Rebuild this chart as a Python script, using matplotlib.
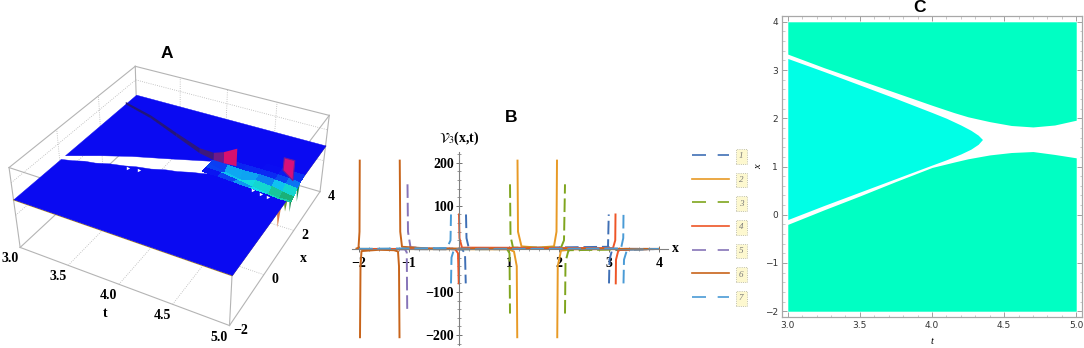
import numpy as np
import matplotlib
matplotlib.use('Agg')
import matplotlib.pyplot as plt
from matplotlib.colors import LinearSegmentedColormap
from matplotlib.lines import Line2D
from mpl_toolkits.mplot3d import proj3d
from mpl_toolkits.mplot3d.art3d import Poly3DCollection

W, H = 1084, 348
nan = np.nan

# boundaries
band_t = [3.0, 3.25, 3.5, 3.75, 4.0, 4.15, 4.25, 4.4, 4.55, 4.7, 4.85, 5.0]
top_edge = [3.33, 3.05, 2.79, 2.53, 2.27, 2.12, 2.03, 1.93, 1.85, 1.82, 1.86, 1.96]
bottom_edge = [-0.2, 0.1, 0.39, 0.69, 0.98, 1.09, 1.16, 1.24, 1.29, 1.31, 1.25, 1.18]

wedge_t = [3.0, 3.25, 3.5, 3.75, 4.0, 4.1, 4.2, 4.27, 4.32, 4.35]
wedge_up = [3.24, 2.97, 2.69, 2.41, 2.12, 2.0, 1.86, 1.75, 1.65, 1.56]
wedge_lo = [-0.1, 0.19, 0.47, 0.75, 1.03, 1.14, 1.26, 1.36, 1.46, 1.56]

# panel A
sheet_t = [3.0, 3.1, 3.2, 3.3, 3.42, 3.55, 3.65, 3.78, 3.9, 4.0, 4.12, 4.2, 4.33, 4.47, 4.7, 5.0]
sheet_x = [0.05, 0.14, 0.27, 0.33, 0.48, 0.58, 0.69, 0.78, 0.93, 1.0, 1.15, 1.22, 1.38, 1.5, 1.5, 1.5]
mid_t = [3.0, 3.28, 3.53, 3.82, 4.18]
mid_x = [0.25, 0.7, 1.06, 1.4, 1.84]
ridge_t = [3.0, 3.35, 3.72, 4.04, 4.2, 4.3, 4.42]
ridge_x = [3.4, 3.05, 2.53, 2.08, 1.96, 1.95, 1.98]
ridge_z = [5, 7, 9, 13, 20, 32, 52]
tail_t = [4.6, 5.0]
tail_x = [1.9, 1.96]
dip_t = [4.2, 4.35, 4.5, 4.65, 4.8, 4.9, 5.0]
dip_x = [1.3, 1.5, 1.7, 1.9, 2.1, 2.4]
dip_z = [[0, 0, -1, 0, 0, 0],
         [0, -3, -12, -2, 0, 0],
         [-3, -10, -22, -5, 0, 0],
         [-6, -18, -10, -3, 0, 0],
         [-8, -24, -14, -5, -1, 0],
         [-12, -28, -20, -8, -3, -1],
         [-10, -28, -26, -12, -6, -1]]
drip_x = [0.7, 1.15, 1.5, 2.0]
drip_z = [-55, -35, -60, -60]
drip_col = ['#d87a4a', '#6a9a30', '#1e8a50', '#1e8a50']
spike_t = [4.8, 4.88, 4.92, 4.84]
spike_x = [2.4, 2.55, 2.2, 2.05]
spike_z = [36, 26, -12, 22]
nick_t = [4.7, 4.78, 4.85, 3.6, 3.7]
nick_x = [1.18, 1.12, 1.07, 0.52, 0.6]

# panel B
s1_x = [-2, 0.06, 0.12, 0.135, nan, 0.14, 0.15, 0.19, 0.3, 2.98, 2.995, nan, 3.0, 3.01, 3.06, 4]
s1_y = [0, -1, -10, -80, nan, 80, 25, 5, 1, 5, 80, nan, -80, -25, -3, 0]
s2_x = [-2, 1.0, 1.1, 1.155, 1.165, nan, 1.17, 1.18, 1.25, 1.57, 1.9, 1.95, 1.96, nan, 1.965, 1.975, 2.04, 2.3, 4]
s2_y = [0, -1, -6, -40, -205, nan, 205, 40, 6, 3, 6, 40, 205, nan, -205, -40, -4, -1, 0]
s3_x = [-2, 0.96, 1.01, 1.02, nan, 1.02, 1.03, 1.08, 2.04, 2.1, 2.12, nan, 2.12, 2.13, 2.19, 4]
s3_y = [0, 0, -10, -150, nan, 150, 30, 3, 3, 20, 150, nan, -150, -30, -3, 0]
s4_x = [-2, -0.08, -0.02, -0.005, nan, 0.0, 0.01, 0.06, 3.08, 3.125, 3.13, nan, 3.135, 3.14, 3.19, 4]
s4_y = [0, 0, -10, -80, nan, 80, 25, 3, 2, 20, 80, nan, -80, -25, -2, 0]
s5_x = [-2, -1.08, -1.045, -1.035, nan, -1.03, -1.02, -0.97, -0.6, 4]
s5_y = [0, -1, -8, -150, nan, 150, 40, 4, 1, 0]
s6_x = [-2.05, -2.01, -1.99, -1.985, nan, -1.98, -1.97, -1.95, -1.6, -1.3, -1.22, -1.2, -1.19, nan, -1.185, -1.175, -1.14, -0.6, 4]
s6_y = [1, 3, 40, 205, nan, -205, -40, -5, -2, -3, -6, -40, -205, nan, 205, 40, 5, 1, 0]
s7_x = [-2, -0.24, -0.17, -0.16, nan, -0.16, -0.15, -0.1, 3.24, 3.285, 3.29, nan, 3.29, 3.3, 3.36, 4]
s7_y = [0, 2, 20, 80, nan, -80, -20, -1, 1, 25, 80, nan, -80, -25, -2, 0]

series = [(s1_x, s1_y, '#3f6fb5', True, '1'),
          (s2_x, s2_y, '#e89a25', False, '2'),
          (s3_x, s3_y, '#7fa51e', True, '3'),
          (s4_x, s4_y, '#ee5526', False, '4'),
          (s5_x, s5_y, '#8674b8', True, '5'),
          (s6_x, s6_y, '#c8641a', False, '6'),
          (s7_x, s7_y, '#4a9bd6', True, '7')]

b_xticks = [-2, -1, 1, 2, 3, 4]
b_yticks = [-200, -100, 100, 200]
c_xticks = [3.0, 3.5, 4.0, 4.5, 5.0]
c_yticks = [-2, -1, 0, 1, 2, 3, 4]

serif = 'Liberation Serif'
sans = 'Liberation Sans'
fig = plt.figure(figsize=(W/100, H/100), dpi=100)


def axes_px(x0, y0, x1, y1, **kw):
    return fig.add_axes([x0/W, 1-y1/H, (x1-x0)/W, (y1-y0)/H], **kw)


# ---- A
ax = axes_px(-38.9, -23.8, 381.1, 396.2, projection='3d')
ax.set_axis_off()
ax.computed_zorder = False
ax.patch.set_alpha(0)
ax.set_proj_type('persp', focal_length=0.3685)
ax.view_init(elev=35.03, azim=-61.83)
ax.set_box_aspect((0.996, 1, 0.4159), zoom=0.7785)
ax.set_xlim(3, 5)
ax.set_ylim(-2, 4)
zlo, zhi = -155, 95
ax.set_zlim(zlo, zhi)

box = '#b4b4b4'
for a in [3, 5]:
    for b in [-2, 4]:
        ax.plot([a, a], [b, b], [zlo, zhi], color=box, lw=0.8, zorder=1)
    for c in [zlo, zhi]:
        ax.plot([a, a], [-2, 4], [c, c], color=box, lw=0.8, zorder=1)
for b in [-2, 4]:
    for c in [zlo, zhi]:
        ax.plot([3, 5], [b, b], [c, c], color=box, lw=0.8, zorder=1)
for a in [3.5, 4.0, 4.5]:
    ax.plot([a, a], [-2, 4], [zlo, zlo], color=box, lw=0.6, ls=':', zorder=1)
    ax.plot([a, a], [4, 4], [zlo, zhi], color=box, lw=0.6, ls=':', zorder=1)
for b in [0, 2]:
    ax.plot([3, 5], [b, b], [zlo, zlo], color=box, lw=0.6, ls=':', zorder=1)
    ax.plot([3, 3], [b, b], [zlo, zhi], color=box, lw=0.6, ls=':', zorder=1)
for c in [-50, 50]:
    ax.plot([3, 5], [4, 4], [c, c], color=box, lw=0.6, ls=':', zorder=1)
    ax.plot([3, 3], [-2, 4], [c, c], color=box, lw=0.6, ls=':', zorder=1)

blue = '#0a0af2'
up_poly = [(t, x, 0) for t, x in zip(ridge_t + tail_t, ridge_x + tail_x)] + [(5, 4, 0), (3, 4, 0)]
lo_poly = [(3, -2, 0), (5, -2, 0)] + [(t, x, 0) for t, x in zip(sheet_t[::-1], sheet_x[::-1])]
mid_poly = [(t, x, 0) for t, x in zip(mid_t, mid_x)] + \
           [(t, x, 0) for t, x in zip(ridge_t[:5][::-1], ridge_x[:5][::-1])]
ax.plot([3, 5, 5], [-2, -2, 4], [-2, -2, -2], color='#b08a20', lw=0.8, zorder=2)
for poly in [up_poly, mid_poly, lo_poly]:
    ax.add_collection3d(Poly3DCollection([poly], facecolor=blue, edgecolor=blue, lw=0.3, zorder=3))

dip_map = LinearSegmentedColormap.from_list('d', [(0, '#1c9a50'), (0.3, '#18c8a0'), (0.55, '#10e0f0'), (0.8, '#0a60f4'), (1, blue)])
T, X = np.meshgrid(dip_t, dip_x, indexing='ij')
ax.plot_surface(T, X, np.array(dip_z, dtype=float), cmap=dip_map, vmin=-30, vmax=0,
                rstride=1, cstride=1, linewidth=0, antialiased=False, zorder=4)

drips = []
for x, z in zip(drip_x, drip_z):
    drips.append([(5, x-0.12, -4), (5, x+0.12, -4), (5, x, z)])
ax.add_collection3d(Poly3DCollection(drips, facecolors=drip_col, zorder=2))

ridge_polys = []
ridge_cols = []
mix = LinearSegmentedColormap.from_list('r', ['#14147a', '#32187c', '#7a1a8a', '#d8106e'])
for i in range(len(ridge_t)-1):
    ridge_polys.append([(ridge_t[i], ridge_x[i], -3), (ridge_t[i+1], ridge_x[i+1], -3),
                        (ridge_t[i+1], ridge_x[i+1], ridge_z[i+1]), (ridge_t[i], ridge_x[i], ridge_z[i])])
    ridge_cols.append(mix(ridge_z[i+1]/max(ridge_z)))
ax.add_collection3d(Poly3DCollection(ridge_polys, facecolors=ridge_cols, zorder=5))

ax.add_collection3d(Poly3DCollection([list(zip(spike_t, spike_x, spike_z))], facecolor='#d8107a',
                                     edgecolor='#6a1a9a', lw=0.8, zorder=6))
ax.scatter(nick_t, nick_x, [0]*5, marker='>', s=6, c='white', linewidths=0, depthshade=False, zorder=7)


def label3d(t, x, text, dx, dy):
    # text offset in pixels from a point of the box floor
    px, py, _ = proj3d.proj_transform(t, x, zlo, ax.get_proj())
    ax.annotate(text, (px, py), xytext=(dx*0.72, -dy*0.72), textcoords='offset points', fontsize=10,
                fontweight='bold', family=serif, ha='center', va='center', annotation_clip=False)


for t in [3.0, 3.5, 4.0, 4.5, 5.0]:
    label3d(t, -2, f'{t:.1f}', -10, 11.5)
label3d(4.0, -2, 't', -14, 29)
for x, s in zip([-2, 0, 2, 4], ['\u22122', '0', '2', '4']):
    label3d(5, x, s, 11, 5)
label3d(5, 1, 'x', 24, 7)
fig.text(167/W, 1-53/H, 'A', fontsize=12.5, fontweight='bold', family=sans, ha='center', va='center')

# ---- B
ax = axes_px(352, 152, 668, 345)
ax.set_xlim(-2.14, 4.18)
ax.set_ylim(-223, 225)
ax.patch.set_alpha(0)
for s in ['top', 'right']:
    ax.spines[s].set_visible(False)
ax.spines['left'].set_position(('data', 0))
ax.spines['bottom'].set_position(('data', 0))
ax.spines['left'].set_color('#808080')
ax.spines['bottom'].set_color('#808080')
ax.spines['left'].set_linewidth(0.8)
ax.spines['bottom'].set_linewidth(0.8)
handles = []
for xs, ys, col, dashed, name in series:
    ls = (0, (7, 2.5)) if dashed else '-'
    ax.plot(xs, ys, color=col, lw=1.4, ls=ls, clip_on=False)
    handles.append(Line2D([], [], color=col, lw=1.2, ls=(0, (8.4, 7.0)) if dashed else '-', label=name))
ax.set_xticks(b_xticks)
ax.set_xticklabels([str(v).replace('-', '\u2212') for v in b_xticks], fontsize=10, fontweight='bold', family=serif)
ax.set_yticks(b_yticks)
ax.set_yticklabels([str(v).replace('-', '\u2212') for v in b_yticks], fontsize=10, fontweight='bold', family=serif)
ax.set_xticks(np.arange(-2, 4.01, 0.2), minor=True)
ax.set_yticks(np.arange(-220, 221, 20), minor=True)
ax.tick_params(which='major', direction='inout', length=5, width=0.7, color='#707070')
ax.tick_params(axis='x', which='major', pad=3)
ax.tick_params(axis='y', which='major', pad=1)
ax.tick_params(which='minor', direction='inout', length=2.5, width=0.5, color='#707070')
ax.text(4.32, 0, 'x', fontsize=10, fontweight='bold', family=serif, ha='center', va='center', clip_on=False)
ax.text(0, 256, r'$\mathcal{V}_3$(x,t)', fontsize=10, fontweight='bold', family=serif, ha='center', va='center',
        math_fontfamily='stix')
fig.text(511/W, 1-117/H, 'B', fontsize=12.5, fontweight='bold', family=sans, ha='center', va='center')

leg = fig.legend(handles=handles, loc='upper left', bbox_to_anchor=(692/W, 1-152/H), frameon=False, fontsize=6.5,
                 handlelength=4.1, handletextpad=1.1, labelspacing=1.7, borderpad=0, borderaxespad=0)
for txt in leg.get_texts():
    txt.set_fontstyle('italic')
    txt.set_family(serif)
    txt.set_color('#777777')
    txt.set_bbox(dict(facecolor='#fdf8cf', edgecolor='#b0b0a0', ls=':', lw=0.6, pad=2.4))

# ---- C
ax = axes_px(782, 16, 1082, 317)
ax.set_xlim(2.96, 5.04)
ax.set_ylim(-2.12, 4.12)
green = '#00ffc3'
ax.fill_between(band_t, -2, bottom_edge, color=green, lw=0)
ax.fill_between(band_t, top_edge, 4, color=green, lw=0)
ax.fill_between(wedge_t, wedge_lo, wedge_up, color='#00ffe6', lw=0)
ax.set_xticks(c_xticks)
ax.set_yticks(c_yticks)
ax.set_xticks(np.arange(3, 5.01, 0.1), minor=True)
ax.set_yticks(np.arange(-2, 4.01, 0.2), minor=True)
ax.set_xticklabels([f'{v:.1f}' for v in c_xticks])
ax.set_yticklabels([str(v).replace('-', '\u2212') for v in c_yticks])
ax.tick_params(which='major', direction='in', length=3.5, width=0.6, color='#909090', top=True, right=True,
               labelsize=6.5, labelcolor='#333333', pad=3)
ax.tick_params(which='minor', direction='in', length=1.8, width=0.4, color='#a0a0a0', top=True, right=True)
for s in ax.spines.values():
    s.set_color('#a8a8a8')
    s.set_linewidth(0.9)
ax.set_xlabel('t', fontsize=7.5, style='italic', family=serif, labelpad=5)
ax.set_ylabel('x', fontsize=7.5, style='italic', family=serif, labelpad=1)
fig.text(919/W, 1-8/H, 'C', fontsize=12.5, fontweight='bold', family=sans, ha='center', va='center')

fig.savefig('out.png', dpi=100)
